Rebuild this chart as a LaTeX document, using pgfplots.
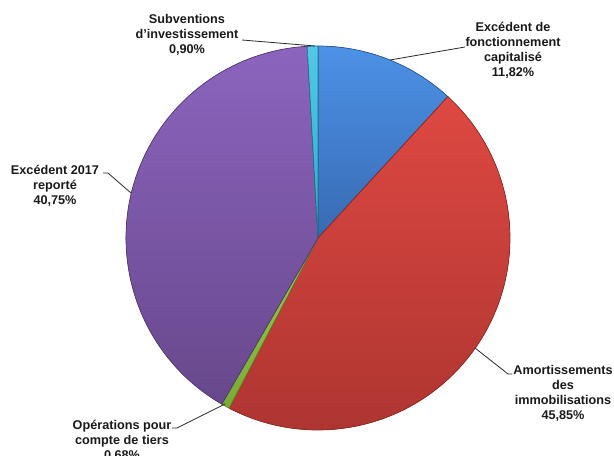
\documentclass[border=0pt]{standalone}
\usepackage{pgfplots}
\pgfplotsset{compat=1.18}
\usepackage{fontspec}
\setmainfont{Liberation Sans}

% slice colours (light top, dark bottom)
\definecolor{blueT}{RGB}{76,146,230}
\definecolor{blueB}{RGB}{56,106,180}
\definecolor{redT}{RGB}{222,72,66}
\definecolor{redB}{RGB}{172,52,48}
\definecolor{greenT}{RGB}{160,204,80}
\definecolor{greenB}{RGB}{120,170,50}
\definecolor{purT}{RGB}{140,100,190}
\definecolor{purB}{RGB}{104,72,140}
\definecolor{cyaT}{RGB}{80,200,230}
\definecolor{cyaB}{RGB}{50,170,205}
\definecolor{lead}{RGB}{40,40,40}

\newcommand{\lab}{\bfseries\fontsize{9.5}{11.25}\selectfont\color{black!90}}

\begin{document}
\begin{tikzpicture}
\useasboundingbox (0,0) rectangle (460.5pt,342pt);
\begin{axis}[
  width=460.5pt, height=342pt, scale only axis,
  xmin=0, xmax=614, ymin=0, ymax=456,
  y dir=reverse,
  hide axis, clip=false,
]
% percentages: 11.82, 45.85, 0.68, 40.75, 0.90 ; clockwise from 12 o'clock
\filldraw[top color=blueT, bottom color=blueB, draw=blueB!80!black, line width=0.5pt]
  (axis cs:318,238) -- ++(90:144pt)
  arc[start angle=90, delta angle={-3.6*11.82}, radius=144pt] -- cycle;
\filldraw[top color=redT, bottom color=redB, draw=redB!80!black, line width=0.5pt]
  (axis cs:318,238) -- ++({90-3.6*11.82}:144pt)
  arc[start angle={90-3.6*11.82}, delta angle={-3.6*45.85}, radius=144pt] -- cycle;
\filldraw[top color=greenT, bottom color=greenB, draw=greenB!80!black, line width=0.5pt]
  (axis cs:318,238) -- ++({90-3.6*(11.82+45.85)}:144pt)
  arc[start angle={90-3.6*(11.82+45.85)}, delta angle={-3.6*0.68}, radius=144pt] -- cycle;
\filldraw[top color=purT, bottom color=purB, draw=purB!80!black, line width=0.5pt]
  (axis cs:318,238) -- ++({90-3.6*(11.82+45.85+0.68)}:144pt)
  arc[start angle={90-3.6*(11.82+45.85+0.68)}, delta angle={-3.6*40.75}, radius=144pt] -- cycle;
\filldraw[top color=cyaT, bottom color=cyaB, draw=cyaB!70!black, line width=0.5pt]
  (axis cs:318,238) -- ++({90-3.6*(11.82+45.85+0.68+40.75)}:144pt)
  arc[start angle={90-3.6*(11.82+45.85+0.68+40.75)}, delta angle={-3.6*0.90}, radius=144pt] -- cycle;

% leader lines
\draw[lead, line width=0.6pt] (axis cs:242,40) -- (axis cs:315,46);
\draw[lead, line width=0.6pt] (axis cs:390,60) -- (axis cs:465,47);
\draw[lead, line width=0.6pt] (axis cs:103,173) -- (axis cs:108,173) -- (axis cs:131,193);
\draw[lead, line width=0.6pt] (axis cs:475,348) -- (axis cs:508,374) -- (axis cs:512,374);
\draw[lead, line width=0.6pt] (axis cs:225,404) -- (axis cs:177,428) -- (axis cs:172,428);

% labels
\node[align=center, font=\lab] at (axis cs:187,35) {Subventions\\d'investissement\\0,90\%};
\node[align=center, font=\lab] at (axis cs:513,50) {Excédent de\\fonctionnement\\capitalisé\\11,82\%};
\node[align=center, font=\lab] at (axis cs:55,186) {Excédent 2017\\reporté\\40,75\%};
\node[align=center, font=\lab] at (axis cs:563,393) {Amortissements\\des\\immobilisations\\45,85\%};
\node[align=center, font=\lab] at (axis cs:122,441) {Opérations pour\\compte de tiers\\0,68\%};
\end{axis}
\end{tikzpicture}
\end{document}
